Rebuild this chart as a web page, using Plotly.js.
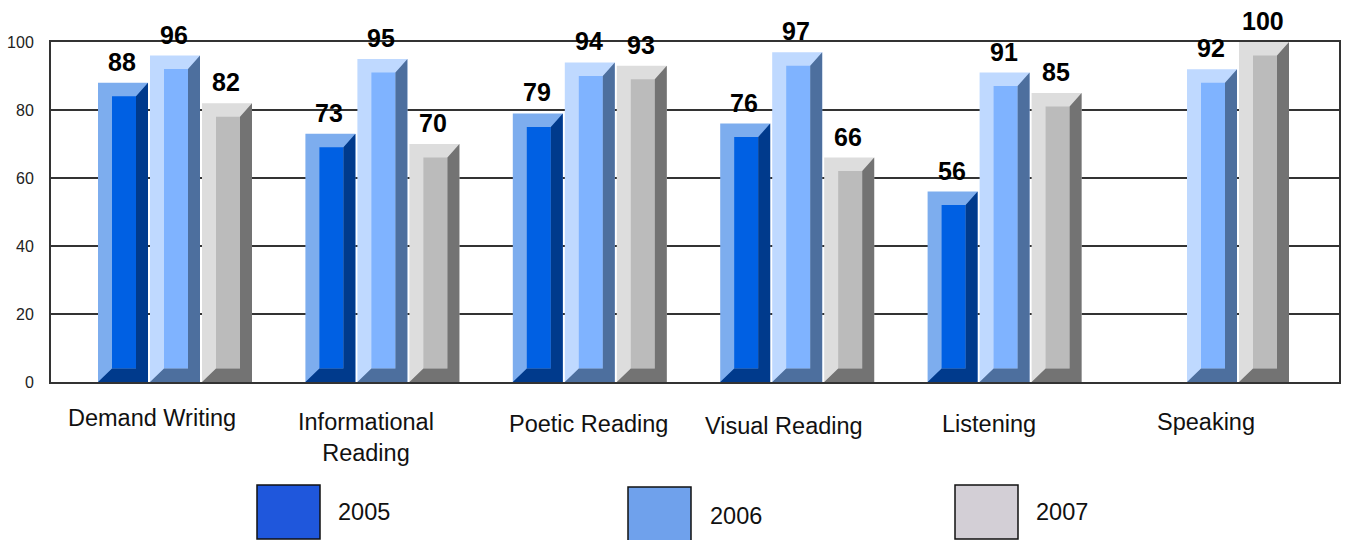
<!DOCTYPE html>
<html><head><meta charset="utf-8">
<script src="https://cdn.plot.ly/plotly-3.0.1.min.js"></script>
<style>html,body{margin:0;padding:0;background:#fff}</style></head>
<body><div id="chart" style="width:1345px;height:540px"></div>
<script>
const categories = ["Demand Writing","Informational<br>Reading","Poetic Reading","Visual Reading","Listening","Speaking"];
const years = ["2005","2006","2007"];
const values2005 = [88,73,79,76,56,null];
const values2006 = [96,95,94,97,91,92];
const values2007 = [82,70,93,66,85,100];
const yTicks = [0,20,40,60,80,100];

const W=1345,H=540,L=51,R=1339,T=42,B=382;
const pxPerCat=207.4, firstCat=175;
const pxPerVal=(B-T)/100;
const xRange=[(L-firstCat)/pxPerCat,(R-firstCat)/pxPerCat];
const dx=p=>p/pxPerCat, dy=p=>p/pxPerVal;
const px=x=>(x-L)/(R-L), py=y=>(B-y)/(B-T);

const series=[
 {vals:values2005,off:-77,light:"#7DADEE",front:"#0060E3",dark:"#003A8C"},
 {vals:values2006,off:-25,light:"#BFD9FF",front:"#7FB3FF",dark:"#4D6F9E"},
 {vals:values2007,off:27,light:"#DDDDDD",front:"#BBBBBB",dark:"#737373"}
];
const bw=50,leftD=14,rightD=12,d=13.5;
const traces=[],annotations=[],shapes=[];
series.forEach((s,k)=>{
  const idx=s.vals.map((v,i)=>i).filter(i=>s.vals[i]!=null);
  const v=idx.map(i=>s.vals[i]);
  traces.push({type:"bar",name:years[k],x:idx,y:v,width:dx(bw),offset:dx(s.off),
    marker:{color:s.light,line:{width:0}},showlegend:false,hoverinfo:"x+y"});
  const dpx=[],dpy=[];
  idx.forEach(i=>{
    const a=i+dx(s.off),b=a+dx(bw),ia=a+dx(leftD),ib=b-dx(rightD),val=s.vals[i];
    dpx.push(b,ib,ib,ia,a,b,b,null);
    dpy.push(val,val-dy(d),dy(d),dy(d),0,0,val,null);
  });
  traces.push({type:"scatter",mode:"none",x:dpx,y:dpy,fill:"toself",fillcolor:s.dark,
    line:{width:0},showlegend:false,hoverinfo:"skip"});
  traces.push({type:"bar",x:idx,y:v.map(q=>q-2*dy(d)),base:v.map(()=>dy(d)),
    width:dx(bw-leftD-rightD),offset:dx(s.off+leftD),marker:{color:s.front,line:{width:0}},
    showlegend:false,hoverinfo:"skip"});
  idx.forEach(i=>annotations.push({xref:"x",yref:"y",x:i+dx(s.off+bw/2-1),y:s.vals[i],
    text:"<b>"+s.vals[i]+"</b>",showarrow:false,yanchor:"bottom",yshift:5,
    font:{family:"Liberation Sans",size:25,color:"#000"}}));
});
const catX=[152,366,588,784,989,1206], catY=[418,437,424,426,424,422];
categories.forEach((c,i)=>annotations.push({xref:"paper",yref:"paper",x:px(catX[i]),y:py(catY[i]),
  text:c,showarrow:false,xanchor:"center",yanchor:"middle",
  font:{family:"Liberation Sans",size:23.5,color:"#111"}}));
const legX=[257,628,955],legTop=[485,487,485],legColor=["#1F57DC","#6FA1EC","#D3CFD6"];
const legTextX=[336,708,1034],legTextY=[512,516,512];
years.forEach((y,i)=>{
  shapes.push({type:"rect",xref:"paper",yref:"paper",x0:px(legX[i]),x1:px(legX[i]+63),
    y0:py(legTop[i]),y1:py(legTop[i]+54),fillcolor:legColor[i],line:{color:"#111",width:1.5}});
  annotations.push({xref:"paper",yref:"paper",x:px(legTextX[i]),y:py(legTextY[i]),text:y,showarrow:false,
    xanchor:"left",yanchor:"middle",font:{family:"Liberation Sans",size:23.5,color:"#111"}});
});
Plotly.newPlot("chart",traces,{
  width:W,height:H,margin:{l:L,r:W-R,t:T,b:H-B,pad:0},
  paper_bgcolor:"#fff",plot_bgcolor:"#fff",barmode:"overlay",showlegend:false,
  xaxis:{type:"linear",range:xRange,showgrid:false,zeroline:false,showticklabels:false,ticks:"",
    showline:true,mirror:true,linecolor:"#333",linewidth:2,layer:"below traces"},
  yaxis:{range:[0,100],tickvals:yTicks,showgrid:true,gridcolor:"#333",gridwidth:2,zeroline:false,
    showline:true,mirror:true,linecolor:"#333",linewidth:2,layer:"below traces",ticks:"",
    ticklabelstandoff:12,tickfont:{family:"Liberation Sans",size:16,color:"#222"}},
  annotations,shapes
},{displayModeBar:false});
</script></body></html>
